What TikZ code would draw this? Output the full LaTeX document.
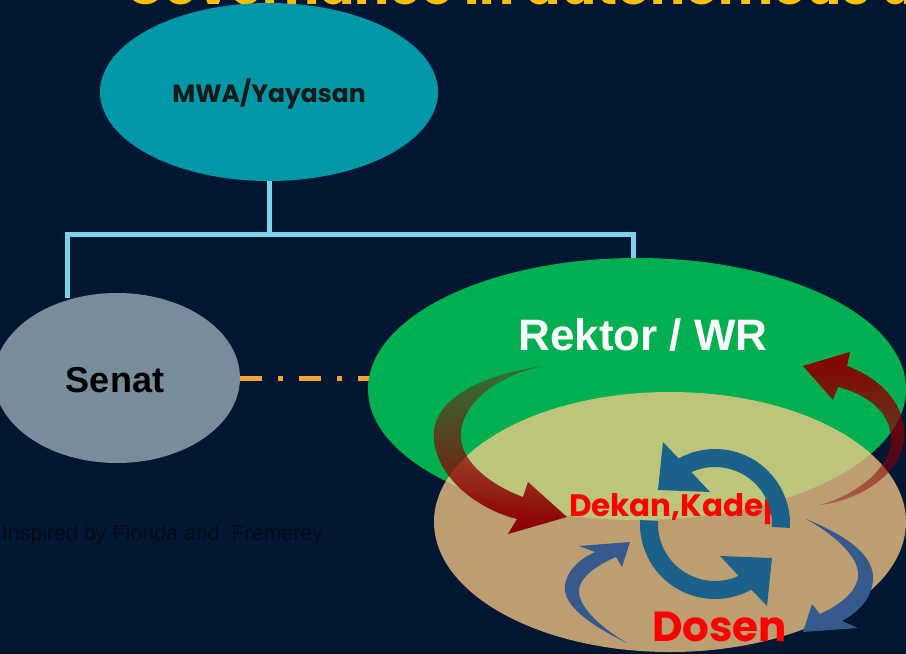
\documentclass[tikz,border=0pt]{standalone}
\usepackage{fontspec}
\newfontfamily\arialf{Liberation Sans}
\newfontfamily\gothic{Poppins}
\usetikzlibrary{shapes.geometric,fadings}
\definecolor{bgnavy}{RGB}{0,22,50}
\definecolor{mwacol}{RGB}{0,151,167}
\definecolor{senatcol}{RGB}{120,141,153}
\definecolor{rektorcol}{RGB}{0,176,80}
\definecolor{tancol}{RGB}{255,205,137}
\definecolor{darkredcol}{RGB}{139,0,0}
\definecolor{ringcol}{RGB}{26,98,137}
\definecolor{smallblue}{RGB}{55,90,140}
\definecolor{orangecol}{RGB}{245,164,58}
\definecolor{linkblue}{RGB}{125,210,235}
\definecolor{titleyellow}{RGB}{255,192,0}
\definecolor{textred}{RGB}{255,0,0}
\definecolor{faintblack}{RGB}{6,10,20}
\tikzfading[name=redfadeA, top color=transparent!65, middle color=transparent!0, bottom color=transparent!0]
\tikzfading[name=redfadeB, top color=transparent!0, middle color=transparent!0, bottom color=transparent!60]
\begin{document}
\begin{tikzpicture}[x=1pt,y=-1pt,
  bubble/.style={ellipse, inner sep=0pt},
  conn/.style={draw=linkblue, line width=5pt, line join=miter},
  dashdotlink/.style={draw=orangecol, line width=5pt, dash pattern=on 22pt off 16pt on 5pt off 16pt},
  redarrow/.style={fill=darkredcol},
  ringarrow/.style={fill=ringcol},
  bluearrow/.style={fill=smallblue},
  gothicbold/.style={font=\gothic\bfseries\fontsize{#1}{#1}\selectfont},
  arialbold/.style={font=\arialf\bfseries\fontsize{#1}{#1}\selectfont},
  lbl/.style={inner sep=0pt, outer sep=0pt}]
\useasboundingbox (0,0) rectangle (906,654);
\clip (0,0) rectangle (906,654);
\fill[bgnavy] (0,0) rectangle (906,654);

% title (mostly cut off)
\node[lbl, anchor=base west, text=titleyellow, gothicbold=52] (title) at (125,4) {Governance in autonomous university};

% MWA
\node[bubble, fill=mwacol, minimum width=338pt, minimum height=178pt] (mwa) at (269,92) {};
\node[lbl, anchor=base, text=black!90, gothicbold=25] (mwat) at (269,102) {MWA/Yayasan};

% connectors
\coordinate (jn) at (269,234);
\coordinate (lend) at (67,298);
\coordinate (rend) at (633,267);
\draw[conn] (mwa.south) -- (jn);
\draw[conn] (lend) |- (jn) -| (rend);

% Senat
\node[bubble, fill=senatcol, minimum width=246pt, minimum height=170pt] (senat) at (117,378) {};
\node[lbl, anchor=base, text=black, arialbold=36] (senatt) at (115,392) {Senat};

% dash-dot link
\coordinate (oe) at (376,378);
\draw[dashdotlink] (senat.east) -- (oe);

% Rektor
\node[bubble, fill=rektorcol, minimum width=538pt, minimum height=262pt] (rektor) at (637,389) {};
\node[lbl, anchor=base, text=white, arialbold=44] (rektort) at (643,350) {Rektor / WR};

% lower ellipse
\node[bubble, fill=tancol, fill opacity=0.74, minimum width=472pt, minimum height=260pt] (lower) at (670,522) {};

% red arrows
\fill[redarrow, path fading=redfadeA]
  (543,366) .. controls (480,375) and (430,400) .. (434,440)
  .. controls (438,480) and (480,510) .. (517,519)
  -- (508,534) -- (567,517) -- (528,482) -- (523,497)
  .. controls (490,485) and (458,460) .. (461,432)
  .. controls (464,400) and (500,375) .. cycle;
\fill[redarrow, path fading=redfadeB]
  (803,366) -- (850,352) -- (847,366)
  .. controls (885,380) and (908,410) .. (904,440)
  .. controls (900,475) and (860,500) .. (820,505)
  .. controls (855,495) and (890,470) .. (891,440)
  .. controls (892,415) and (870,395) .. (838,387)
  -- (833,400) -- cycle;

% texts in lower ellipse
\node[lbl, anchor=base west, text=textred, gothicbold=31] (dekan) at (569,516) {Dekan,Kadep};
\node[lbl, anchor=base west, text=textred, gothicbold=42] (dosen) at (652,641) {Dosen};

% ring arrows
\begin{scope}[shift={(715,524)}]
\fill[ringarrow] (3:75) arc[start angle=3, end angle=-119, radius=75]
  -- (-52,-82) -- (-57,-34) -- (-5,-32) -- (-114.5:57)
  arc[start angle=-114.5, end angle=3, radius=57] -- cycle;
\end{scope}
\begin{scope}[shift={(715,524)}, rotate=180]
\fill[ringarrow] (3:75) arc[start angle=3, end angle=-119, radius=75]
  -- (-52,-82) -- (-57,-34) -- (-5,-32) -- (-114.5:57)
  arc[start angle=-114.5, end angle=3, radius=57] -- cycle;
\end{scope}

% small blue arrows
\fill[bluearrow]
  (627,643) .. controls (590,625) and (562,605) .. (565,585)
  .. controls (568,568) and (582,558) .. (595,552)
  -- (579,546) -- (630,542) -- (622,567) -- (616,557)
  .. controls (597,565) and (578,578) .. (579,592)
  .. controls (580,610) and (605,630) .. cycle;
\fill[bluearrow]
  (806,519) .. controls (845,535) and (875,555) .. (873,580)
  .. controls (871,600) and (858,612) .. (842,621)
  -- (858,628) -- (803,632) -- (812,604) -- (820,614)
  .. controls (840,605) and (860,590) .. (858,572)
  .. controls (856,555) and (835,535) .. cycle;

% credit
\node[lbl, anchor=base west, text=faintblack, font=\arialf\fontsize{21.4}{21.4}\selectfont] (credit) at (2,540) {Inspired by Florida and\ \ Fremerey};
\end{tikzpicture}
\end{document}
